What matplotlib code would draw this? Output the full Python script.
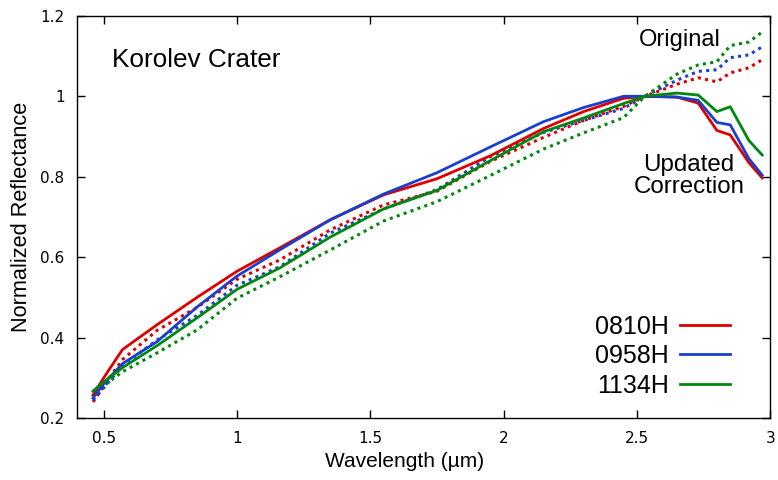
"""
Korolev Crater normalized reflectance: original vs. updated correction.

Output:
    out.png
"""

import matplotlib

matplotlib.use("Agg")
import matplotlib.pyplot as plt
from matplotlib.ticker import FormatStrFormatter, MultipleLocator


WAVELENGTH = [0.46, 0.50, 0.57, 0.70, 0.85, 1.00, 1.16, 1.35, 1.55, 1.75, 1.95,
              2.15, 2.30, 2.45, 2.53, 2.65, 2.73, 2.80, 2.85, 2.92, 2.97]

# updated correction (solid)
UPDATED_0810H = [0.257, 0.300, 0.370, 0.432, 0.500, 0.565, 0.623, 0.693, 0.755, 0.795, 0.852,
                 0.920, 0.962, 0.995, 1.000, 0.998, 0.983, 0.915, 0.904, 0.835, 0.797]
UPDATED_0958H = [0.250, 0.285, 0.335, 0.390, 0.476, 0.553, 0.618, 0.693, 0.757, 0.810, 0.874,
                 0.937, 0.972, 1.000, 1.000, 0.998, 0.990, 0.935, 0.929, 0.845, 0.804]
UPDATED_1134H = [0.267, 0.290, 0.325, 0.380, 0.449, 0.520, 0.573, 0.650, 0.720, 0.766, 0.840,
                 0.912, 0.946, 0.982, 1.000, 1.008, 1.003, 0.962, 0.974, 0.890, 0.854]

# original (dotted)
ORIGINAL_0810H = [0.240, 0.280, 0.345, 0.418, 0.475, 0.545, 0.593, 0.668, 0.730, 0.764, 0.838,
                  0.898, 0.940, 0.975, 1.000, 1.030, 1.046, 1.036, 1.058, 1.071, 1.091]
ORIGINAL_0958H = [0.245, 0.275, 0.330, 0.394, 0.455, 0.530, 0.576, 0.660, 0.720, 0.768, 0.850,
                  0.910, 0.940, 0.970, 1.000, 1.040, 1.062, 1.066, 1.096, 1.103, 1.123]
ORIGINAL_1134H = [0.265, 0.280, 0.315, 0.362, 0.419, 0.498, 0.551, 0.618, 0.690, 0.738, 0.803,
                  0.869, 0.909, 0.947, 1.000, 1.055, 1.078, 1.086, 1.126, 1.135, 1.160]

LABELS = ["0810H", "0958H", "1134H"]
COLORS = ["#dd0000", "#1a3fcc", "#00870f"]

LABEL_FAMILY = "Liberation Sans"


def main() -> None:
    fig = plt.figure(figsize=(7.78, 4.8), dpi=100)
    ax = fig.add_axes([0.099, 0.129, 0.891, 0.838])

    updated = [UPDATED_0810H, UPDATED_0958H, UPDATED_1134H]
    original = [ORIGINAL_0810H, ORIGINAL_0958H, ORIGINAL_1134H]

    for values, color in zip(original, COLORS):
        ax.plot(WAVELENGTH, values, color=color, lw=2.2, linestyle=(0, (1, 1.4)))
    for values, color, label in zip(updated, COLORS, LABELS):
        ax.plot(WAVELENGTH, values, color=color, lw=2.0, label=label)

    ax.set_xlim(0.4, 3.0)
    ax.set_ylim(0.2, 1.2)
    ax.xaxis.set_major_locator(MultipleLocator(0.5))
    ax.yaxis.set_major_locator(MultipleLocator(0.2))
    ax.xaxis.set_major_formatter(FormatStrFormatter("%g"))
    ax.yaxis.set_major_formatter(FormatStrFormatter("%g"))
    ax.tick_params(direction="in", length=6, width=1, top=True, right=True,
                   labelsize=11, pad=9)
    for spine in ax.spines.values():
        spine.set_linewidth(1.0)

    ax.set_xlabel("Wavelength (µm)", family=LABEL_FAMILY, fontsize=15)
    ax.xaxis.set_label_coords(0.473, -0.085)
    ax.set_ylabel("Normalized Reflectance", family=LABEL_FAMILY, fontsize=15.7, labelpad=6)

    ax.text(0.531, 1.09, "Korolev Crater", family=LABEL_FAMILY, fontsize=18.8, va="center")
    ax.text(2.816, 1.14, "Original", family=LABEL_FAMILY, fontsize=17, ha="right", va="center")
    ax.text(2.696, 0.802, "Updated\nCorrection", family=LABEL_FAMILY, fontsize=17.4,
            ha="center", va="center", linespacing=0.95)

    legend = ax.legend(loc="lower right", bbox_to_anchor=(0.975, -0.005), frameon=False,
                       markerfirst=False, handlelength=2.0, handletextpad=0.45,
                       labelspacing=0.22, prop={"family": LABEL_FAMILY, "size": 18})
    for text in legend.get_texts():
        text.set_ha("right")

    fig.savefig("out.png", dpi=100)
    plt.close(fig)


if __name__ == "__main__":
    main()
